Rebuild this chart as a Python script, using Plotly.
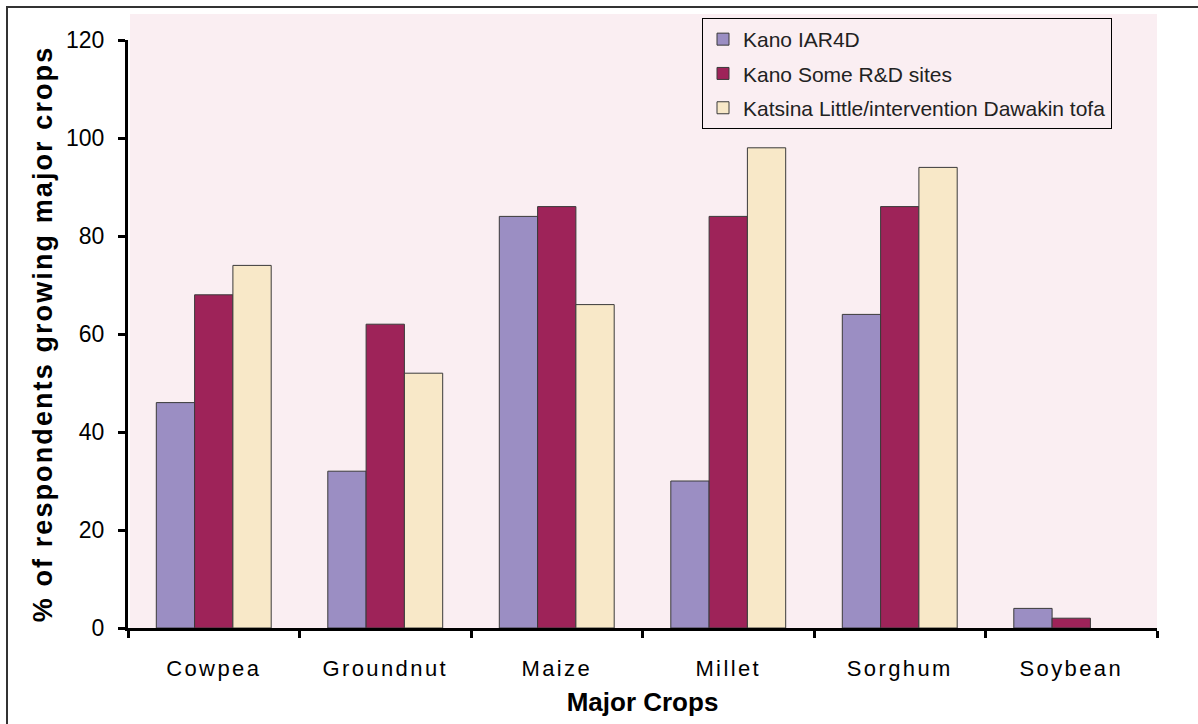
import plotly.graph_objects as go

categories = ["Cowpea", "Groundnut", "Maize", "Millet", "Sorghum", "Soybean"]
series_names = ["Kano IAR4D", "Kano Some R&D sites", "Katsina Little/intervention Dawakin tofa"]
kano_iar4d = [46, 32, 84, 30, 64, 4]
kano_rd = [68, 62, 86, 84, 86, 2]
katsina = [74, 52, 66, 98, 94, 0]
colors = ["#9b8ec3", "#9e2359", "#f8e8c8"]
y_ticks = [0, 20, 40, 60, 80, 100, 120]

FONT = "Liberation Sans, Arial, sans-serif"

fig = go.Figure()
for i, (name, vals) in enumerate(zip(series_names, [kano_iar4d, kano_rd, katsina])):
    fig.add_trace(go.Bar(
        x=categories, y=vals, name=name,
        marker=dict(color=colors[i],
                    line=dict(color="#3a3a3a", width=[1 if v > 0 else 0 for v in vals])),
        legendgroup=f"g{i}",
    ))

W, H = 1198, 724
ml, mr, mt, mb = 128, 41, 40, 96
ph = H - mt - mb
pw = W - ml - mr

fig.update_layout(
    width=W, height=H,
    margin=dict(l=ml, r=mr, t=mt, b=mb, autoexpand=False),
    paper_bgcolor="white",
    plot_bgcolor="rgba(0,0,0,0)",
    barmode="group",
    bargap=0.33,
    bargroupgap=0,
    font=dict(family=FONT, color="black"),
    showlegend=True,
    legend=dict(
        x=(702 - ml) / pw, y=1 + (mt - 18) / ph,
        xanchor="left", yanchor="top",
        bgcolor="rgba(0,0,0,0)", bordercolor="black", borderwidth=1,
        font=dict(size=21, family=FONT, color="#222"),
        tracegroupgap=4,
        itemwidth=30,
    ),
    xaxis=dict(
        type="category",
        showline=True, linecolor="black", linewidth=3,
        ticks="outside", tickson="boundaries", ticklen=7, tickwidth=3, tickcolor="black",
        tickfont=dict(size=22, family=FONT),
        ticklabelstandoff=19,
        title=dict(text="<b>Major Crops</b>", font=dict(size=26, family=FONT), standoff=13),
        showgrid=False, zeroline=False,
    ),
    yaxis=dict(
        range=[0, 120],
        tickvals=y_ticks,
        showline=True, linecolor="black", linewidth=3,
        ticks="outside", ticklen=7, tickwidth=3, tickcolor="black",
        tickfont=dict(size=23, family=FONT),
        ticklabelstandoff=9,
        title=dict(text="<b>% of respondents growing major crops</b>", font=dict(size=27, family=FONT), standoff=6),
        showgrid=False, zeroline=False,
    ),
)

# pink plot background extending slightly above the axis top
fig.add_shape(type="rect", xref="paper", yref="paper",
              x0=0.002, x1=1, y0=0, y1=1 + (mt - 14) / ph,
              fillcolor="#faeef2", line=dict(width=0), layer="below")

# outer frame
fig.add_shape(type="rect", xref="paper", yref="paper",
              x0=(7 - ml) / pw, x1=(1215 - ml) / pw,
              y0=-(H + 20 - mt - ph) / ph, y1=1 + (mt - 7) / ph,
              fillcolor="rgba(0,0,0,0)", line=dict(color="#333", width=2), layer="below")

post = """
document.body.style.margin='0';
document.querySelectorAll('.xtick text').forEach(function(e){e.style.letterSpacing='2.4px';});
document.querySelectorAll('.ytitle').forEach(function(e){e.style.letterSpacing='2.1px';});
"""
fig.write_html("out.html", config={"displayModeBar": False}, post_script=post)
